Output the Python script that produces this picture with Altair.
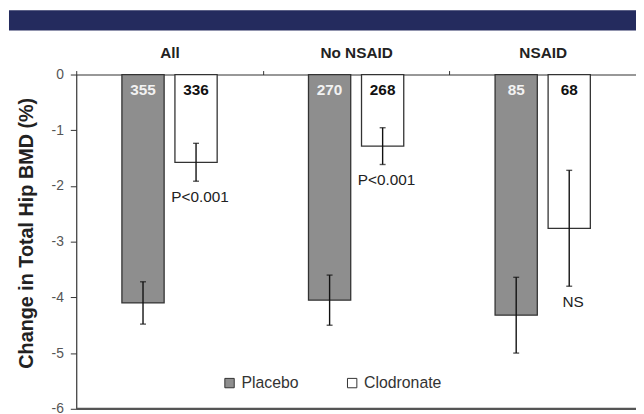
import altair as alt
import pandas as pd

categories = ["All", "No NSAID", "NSAID"]
groups = ["Placebo", "Clodronate"]
placebo_mean = [-4.10, -4.05, -4.32]
placebo_err = [0.38, 0.45, 0.68]
clod_mean = [-1.575, -1.285, -2.76]
clod_err = [0.34, 0.33, 1.04]
placebo_n = [355, 270, 85]
clod_n = [336, 268, 68]
p_labels = ["P<0.001", "P<0.001", "NS"]
y_ticks = [0, -1, -2, -3, -4, -5, -6]

rows = []
for i, c in enumerate(categories):
    rows.append(dict(cat=c, grp="Placebo", mean=placebo_mean[i],
                     lo=placebo_mean[i] - placebo_err[i], hi=placebo_mean[i] + placebo_err[i],
                     n=str(placebo_n[i]), plab=""))
    rows.append(dict(cat=c, grp="Clodronate", mean=clod_mean[i],
                     lo=clod_mean[i] - clod_err[i], hi=clod_mean[i] + clod_err[i],
                     n=str(clod_n[i]), plab=p_labels[i]))
df = pd.DataFrame(rows)

W, H = 566, 338
YTITLE = "Change in Total Hip BMD (%)"

xenc = alt.X("cat:N", sort=categories,
             scale=alt.Scale(paddingInner=0, paddingOuter=0),
             axis=alt.Axis(orient="top", title=None, labelAngle=0, tickBand="extent",
                           labelFontWeight="bold", labelFontSize=15.5, tickSize=4,
                           labelPadding=10, domainColor="#333", tickColor="#333",
                           labelColor="#222", domainWidth=1.2))
xoff = alt.XOffset("grp:N", sort=groups,
                   scale=alt.Scale(paddingInner=0.2037, paddingOuter=0.861))
yscale = alt.Scale(domain=[-6, 0], nice=False)
yaxis = alt.Axis(values=y_ticks, title=YTITLE, labelExpr="'' + datum.value",
                 titleFontSize=20, titleFontWeight="bold", labelFontSize=14,
                 grid=False, tickSize=6, labelPadding=7, titlePadding=15,
                 domainColor="#333", tickColor="#333", labelColor="#555",
                 titleColor="#222", domainWidth=1.2, titleY=160)


def yq(field):
    return alt.Y(field, type="quantitative", scale=yscale, axis=yaxis, title=YTITLE)


base = alt.Chart(df)

bars = base.mark_bar(stroke="#333", strokeWidth=1.3).encode(
    x=xenc, xOffset=xoff,
    y=yq("mean"),
    y2=alt.datum(0),
    fill=alt.Fill("grp:N", sort=groups,
                  scale=alt.Scale(domain=groups, range=["#8e8e8e", "#ffffff"]),
                  legend=alt.Legend(title=None, orient="none", legendX=147, legendY=304,
                                    direction="horizontal", symbolType="square",
                                    symbolSize=90, symbolStrokeColor="#333",
                                    symbolStrokeWidth=1, labelFontSize=16,
                                    labelColor="#333", labelOffset=4, columnPadding=46,
                                    padding=0)),
)

nlabels = base.mark_text(fontWeight="bold", fontSize=15.5, dy=16, baseline="middle").encode(
    x=xenc, xOffset=xoff, y=alt.datum(0), text="n:N",
    color=alt.condition(alt.datum.grp == "Placebo", alt.value("#f2f2f2"), alt.value("#111")),
)

err = base.mark_rule(color="#111", strokeWidth=1.4).encode(
    x=xenc, xOffset=xoff, y=yq("lo"), y2="hi:Q")

caps = base.transform_fold(["lo", "hi"], as_=["k", "v"]).mark_tick(
    color="#111", size=6, thickness=1.4, orient="horizontal").encode(
    x=xenc, xOffset=xoff, y=yq("v"))

plabels = base.transform_filter(alt.datum.grp == "Clodronate").mark_text(
    fontSize=15.5, dy=16, dx=4, baseline="middle", color="#222").encode(
    x=xenc, xOffset=xoff, y=yq("lo"), text="plab:N")

one = pd.DataFrame({"a": [0]})
bottom = alt.Chart(one).mark_rule(color="#555", strokeWidth=2.2).encode(y=alt.datum(-6))
banner = alt.Chart(one).mark_rect(color="#242b5e").encode(
    x=alt.value(-68), x2=alt.value(W + 5), y=alt.value(-65), y2=alt.value(-44.5))

chart = alt.layer(banner, bars, err, caps, nlabels, plabels, bottom).properties(
    width=W, height=H,
    autosize=alt.AutoSizeParams(type="none"),
    padding={"left": 69, "top": 65, "right": 0, "bottom": 3},
).configure(font="Liberation Sans").configure_view(stroke=None)

chart.save("out.html", embed_options={"renderer": "svg", "actions": False})
